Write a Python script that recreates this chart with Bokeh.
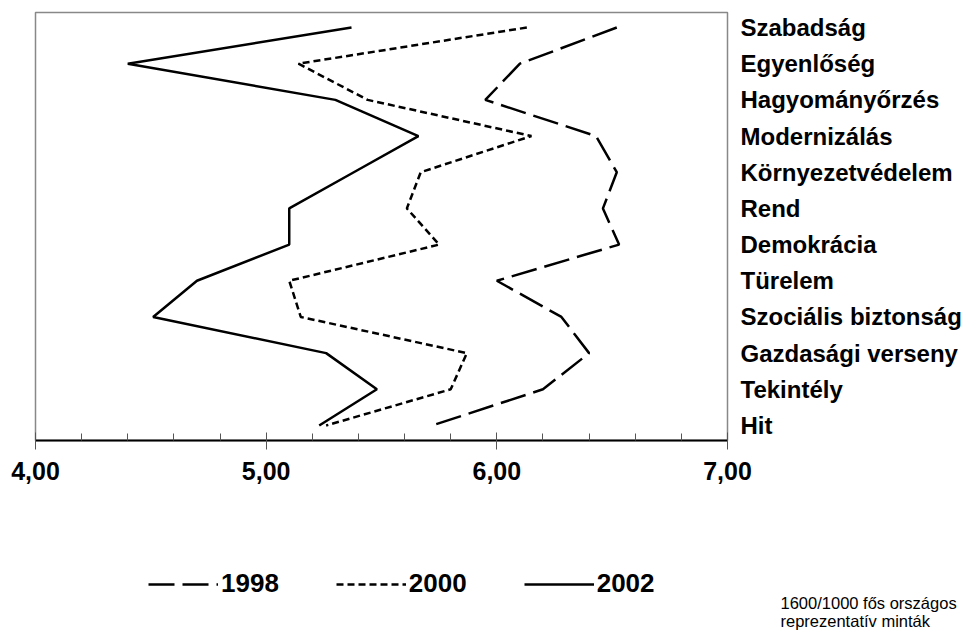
from bokeh.plotting import figure
from bokeh.layouts import column
from bokeh.models import (Range1d, FixedTicker, Legend, LegendItem)
from bokeh.core.properties import value
from bokeh.embed import file_html
from bokeh.resources import INLINE

# ---- data ----
categories = ["Szabadság", "Egyenlőség", "Hagyományőrzés", "Modernizálás",
              "Környezetvédelem", "Rend", "Demokrácia", "Türelem",
              "Szociális biztonság", "Gazdasági verseny", "Tekintély", "Hit"]
v1998 = [6.52, 6.10, 5.95, 6.43, 6.52, 6.46, 6.53, 6.00, 6.28, 6.40, 6.20, 5.72]
v2000 = [6.13, 5.14, 5.44, 6.15, 5.67, 5.61, 5.75, 5.10, 5.15, 5.87, 5.80, 5.26]
v2002 = [5.37, 4.40, 5.30, 5.66, 5.38, 5.10, 5.10, 4.70, 4.51, 5.26, 5.48, 5.23]
series_labels = ["1998", "2000", "2002"]
x_ticks = [4, 5, 6, 7]
x_tick_labels = ["4,00", "5,00", "6,00", "7,00"]
note_lines = ["1600/1000 fős országos", "reprezentatív minták"]

n = len(categories)
ypos = [n - 1 - i for i in range(n)]

FONT = "Liberation Sans"
styles = {"1998": dict(line_dash="26 8"), "2000": dict(line_dash="7 4"), "2002": dict()}

p = figure(width=967, height=500, output_backend="svg", toolbar_location=None,
           x_range=Range1d(4, 7), y_range=Range1d(-0.415, n - 1 + 0.415),
           x_axis_location="below", y_axis_location="right",
           min_border_left=35, min_border_right=240, min_border_top=12,
           min_border_bottom=60)
p.frame_align = False
p.grid.visible = False
p.outline_line_color = "#888888"
p.outline_line_width = 1.5
p.background_fill_color = "white"
p.border_fill_color = "white"

# bottom axis
xa = p.xaxis[0]
minor = [x_ticks[0] + 0.2 * k for k in range(1, 15) if k % 5 != 0]
xa.ticker = FixedTicker(ticks=x_ticks, minor_ticks=minor)
xa.major_label_overrides = {t: l for t, l in zip(x_ticks, x_tick_labels)}
xa.axis_line_color = "black"
xa.axis_line_width = 2
xa.major_tick_in = 8
xa.major_tick_out = 9
xa.major_tick_line_color = "#555555"
xa.major_tick_line_width = 1
xa.minor_tick_in = 7
xa.minor_tick_out = 0
xa.minor_tick_line_color = "#555555"
xa.minor_tick_line_width = 1
xa.major_label_text_font = FONT
xa.major_label_text_font_style = "bold"
xa.major_label_text_font_size = "25px"
xa.major_label_text_color = "black"
xa.major_label_standoff = 12

# right axis with category names
ya = p.yaxis[0]
ya.ticker = FixedTicker(ticks=ypos)
ya.major_label_overrides = {y: c for y, c in zip(ypos, categories)}
ya.axis_line_color = None
ya.major_tick_line_color = None
ya.minor_tick_line_color = None
ya.major_tick_out = 0
ya.major_tick_in = 0
ya.major_label_standoff = 13
ya.major_label_text_font = FONT
ya.major_label_text_font_style = "bold"
ya.major_label_text_font_size = "24px"
ya.major_label_text_color = "black"

for lab, vals in zip(series_labels, [v1998, v2000, v2002]):
    p.line(vals, ypos, line_color="black", line_width=2.5, **styles[lab])

# legend / note panel (data units equal pixels here)
q = figure(width=967, height=133, output_backend="svg", toolbar_location=None,
           x_range=Range1d(0, 967), y_range=Range1d(0, 133),
           x_axis_location=None, y_axis_location=None,
           min_border_left=0, min_border_right=0, min_border_top=0,
           min_border_bottom=0)
q.frame_align = False
q.grid.visible = False
q.outline_line_color = None
q.background_fill_color = "white"
q.border_fill_color = "white"

nan = float("nan")
items = []
for lab in series_labels:
    r = q.line([nan, nan], [nan, nan], line_color="black", line_width=2.5, **styles[lab])
    items.append(LegendItem(label=lab, renderers=[r]))

legend = Legend(items=items, orientation="horizontal", location=(148, 34),
                glyph_width=70, glyph_height=20, label_standoff=3, spacing=57,
                padding=0, margin=0, border_line_color=None,
                background_fill_alpha=0,
                label_text_font=FONT, label_text_font_style="bold",
                label_text_font_size="26px", label_text_color="black")
q.add_layout(legend)

q.text(x=[780, 780], y=[31, 13], text=note_lines, text_font=value(FONT),
       text_font_size="16.5px", text_baseline="middle", text_align="left",
       text_color="black")

layout = column(p, q, spacing=0)
open("out.html", "w").write(file_html(layout, INLINE))
